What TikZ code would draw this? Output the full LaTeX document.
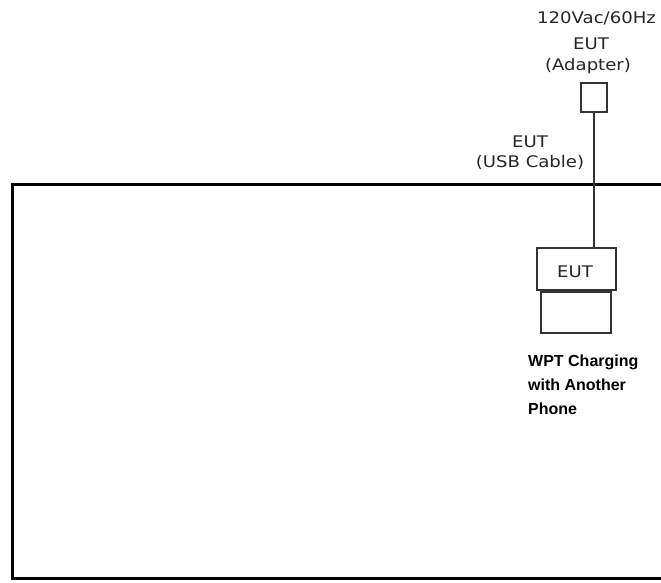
\documentclass[tikz,border=0pt]{standalone}
\usepackage{fontspec}
\setmainfont{Liberation Sans}
\newfontfamily\smallfam{DejaVu Sans}
\begin{document}
\begin{tikzpicture}[x=1pt,y=-1pt,
  lbl/.style={inner sep=0pt,anchor=base,xscale=1.13,font=\smallfam\fontsize{16}{19}\selectfont,text=black!85},
  blbl/.style={inner sep=0pt,anchor=base west,font=\fontsize{16}{19}\selectfont\bfseries,text=black},
  boxline/.style={draw=black!80,line width=2pt},
]
\useasboundingbox[fill=white] (0,0) rectangle (661,582);
% room outline
\draw[line width=3pt,black] (675,184) -- (12.5,184) -- (12.5,578) -- (675,578);
% adapter
\node[boxline,minimum width=26pt,minimum height=29pt,inner sep=0pt] (adp) at (594,97) {};
% EUT phone
\node[boxline,minimum width=79pt,minimum height=42pt,inner sep=0pt] (eut) at (576,268.5) {};
\node[boxline,minimum width=70pt,minimum height=41pt,inner sep=0pt,anchor=north] (ph) at (eut.south) {};
\node[lbl] (eutt) at (575,277) {EUT};
% cable
\draw[line width=2pt,black!80] (adp.south) -- (adp.south |- eut.north);
% labels
\node[lbl,anchor=base west,xscale=1.0] (volt) at (537,23) {120Vac/60Hz};
\node[lbl] (e1) at (591,49) {EUT};
\node[lbl] (a1) at (588,70) {(Adapter)};
\node[lbl] (e2) at (530,147) {EUT};
\node[lbl] (u2) at (530,167) {(USB Cable)};
\node[blbl] (w1) at (528,366) {WPT Charging};
\node[blbl] (w2) at (528,390) {with Another};
\node[blbl] (w3) at (528,414) {Phone};
\end{tikzpicture}
\end{document}
